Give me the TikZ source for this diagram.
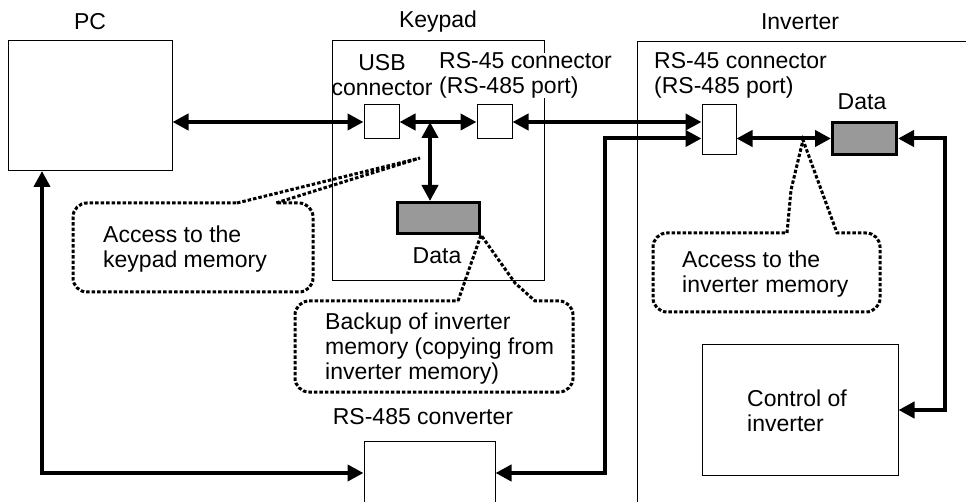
\documentclass[tikz,border=0pt]{standalone}
\usepackage{fontspec}
\setmainfont{Liberation Sans}
\usetikzlibrary{arrows.meta}

\tikzset{
  box/.style={draw, line width=1pt, inner sep=0pt},
  databox/.style={draw, line width=3pt, fill=black!40, inner sep=0pt},
  conn/.style={line width=4pt, {Triangle[length=16pt,width=16pt]}-{Triangle[length=16pt,width=16pt]}},
  callout/.style={line width=3pt, dash pattern=on 3.5pt off 2pt},
  lbl/.style={font=\fontsize{23}{25}\selectfont, inner sep=0pt},
}

\begin{document}
\begin{tikzpicture}[x=1pt, y=-1pt]
    \useasboundingbox (0,0) rectangle (966,502);
    \clip (0,0) rectangle (966,502);

    \node[box, minimum width=164, minimum height=130] (pc) at (90,106) {};
    \node[lbl] at (90,22) {PC};

    \node[box, minimum width=212, minimum height=240] (keypad) at (438,161) {};
    \node[lbl] at (438,22) {Keypad};
    \node[box, minimum width=35, minimum height=34] (usb) at (381.5,122) {};
    \node[box, minimum width=35, minimum height=34] (kport) at (494.5,122) {};
    \node[databox, minimum width=82, minimum height=31] (kdata) at (438.5,218) {};
    \node[lbl, align=center] at (382,75.5) {USB\\connector};
    \node[lbl, align=left, anchor=west, fill=white] at (439,75.5) {RS-45 connector\\(RS-485 port)};
    \node[lbl] at (437,256) {Data};

    \draw[line width=1pt] (637,510) -- (637,42) -- (970,42);
    \node[lbl] at (800,22) {Inverter};
    \node[box, minimum width=34, minimum height=50] (iport) at (719,130) {};
    \node[databox, minimum width=64, minimum height=32] (idata) at (864.5,138.5) {};
    \node[lbl, align=left, anchor=west] at (654,75.5) {RS-45 connector\\(RS-485 port)};
    \node[lbl] at (862,102) {Data};
    \node[box, minimum width=196, minimum height=130] (ctrl) at (800,410) {};
    \node[lbl, align=left, anchor=west] at (747,411) {Control of\\inverter};

    \node[box, minimum width=131, minimum height=100] (conv) at (429.5,491) {};
    \node[lbl] at (423,417) {RS-485 converter};

    \coordinate (hub) at (430,122);
    \coordinate (pcin) at (42,171);
    \coordinate (bus) at (0,473);
    \draw[conn] (pc.east |- usb) -- (usb.west);
    \draw[conn] (usb) -- (kport);
    \draw[conn] (hub) -- (hub |- kdata.north);
    \draw[conn] (kport.east) -- (kport.east -| iport.west);
    \draw[conn] (iport.west |- idata) -- (605,138.5) |- (conv.east |- bus);
    \draw[conn] (pcin) |- (conv.west |- bus);
    \draw[conn] (iport.east |- idata) -- (idata.west);
    \draw[conn] (idata.east) -- (945,138.5) |- (ctrl.east);

    \coordinate (ktip) at (420,158);
    \coordinate (itip) at (803,140);
    \draw[callout] (237,203) -- (ktip) -- (276,203) [rounded corners=14pt] -- (313,203)
      -- (313,292) -- (73,292) -- (73,203) -- (237,203);
    \draw[callout] (458,301) -- (kdata.south east) -- (515,283) -- (535,301) [rounded corners=14pt]
      -- (573,301) -- (573,392) -- (295,392) -- (295,301) -- (458,301);
    \draw[callout] (787,233) -- (791,190) -- (itip) -- (837,233) [rounded corners=14pt]
      -- (880,233) -- (880,312) -- (653,312) -- (653,233) -- (787,233);
    \node[lbl, align=left, anchor=west] at (103,249.5) {Access to the\\keypad memory};
    \node[lbl, align=left, anchor=west] at (325,348.5) {Backup of inverter\\memory (copying from\\inverter memory)};
    \node[lbl, align=left, anchor=west] at (682,274.5) {Access to the\\inverter memory};
\end{tikzpicture}
\end{document}
